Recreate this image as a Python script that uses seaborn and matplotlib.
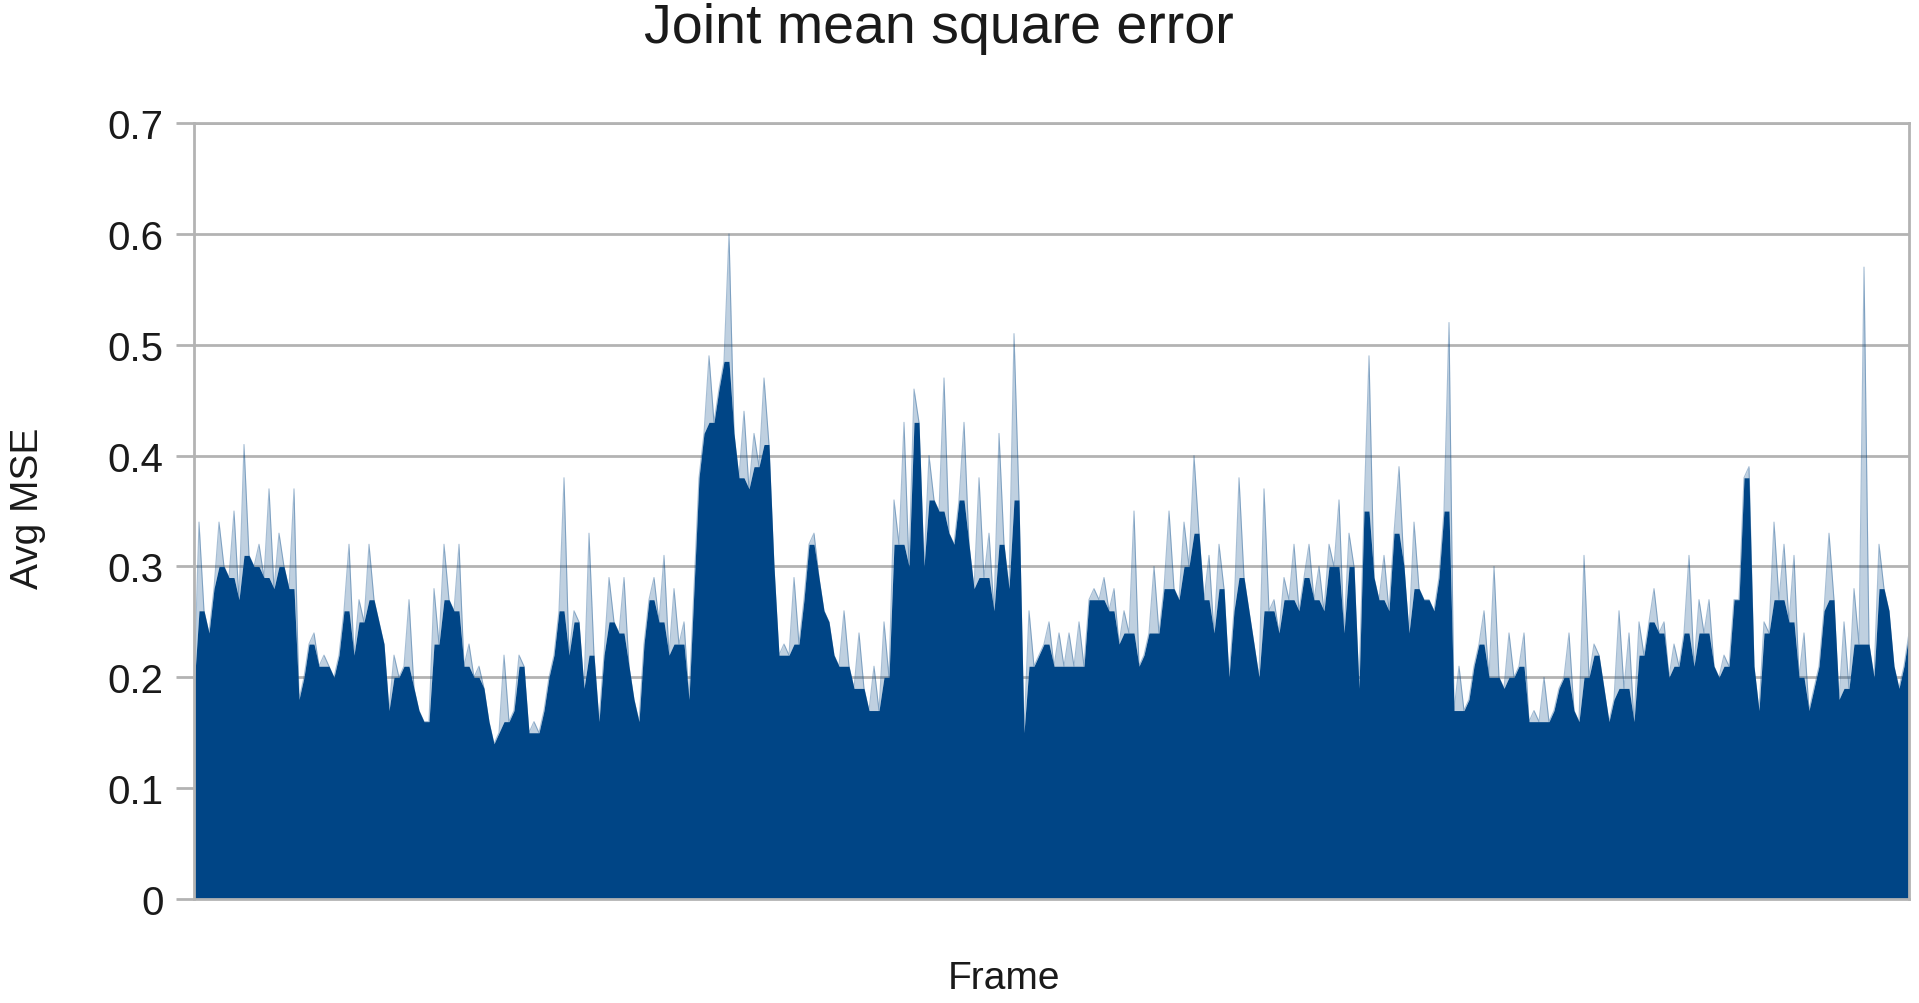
import numpy as np
import pandas as pd
import matplotlib
matplotlib.use("Agg")
import matplotlib.pyplot as plt
import seaborn as sns

mse_part1 = [0.19, 0.34, 0.26, 0.24, 0.28, 0.34, 0.30, 0.29, 0.35, 0.27,
             0.41, 0.31, 0.30, 0.32, 0.29, 0.37, 0.28, 0.33, 0.30, 0.28,
             0.37, 0.18, 0.20, 0.23, 0.24, 0.21, 0.22, 0.21, 0.20, 0.22,
             0.26, 0.32, 0.22, 0.27, 0.25, 0.32, 0.27, 0.25, 0.23, 0.17,
             0.22, 0.20, 0.21, 0.27, 0.19, 0.17, 0.16, 0.16, 0.28, 0.23,
             0.32, 0.27, 0.26, 0.32, 0.21, 0.23, 0.20, 0.21]
mse_part2 = [0.19, 0.16, 0.14, 0.15, 0.22, 0.16, 0.17, 0.22, 0.21, 0.15,
             0.16, 0.15, 0.17, 0.20, 0.22, 0.26, 0.38, 0.22, 0.26, 0.25,
             0.19, 0.33, 0.22, 0.16, 0.22, 0.29, 0.25, 0.24, 0.29, 0.21,
             0.18, 0.16, 0.23, 0.27, 0.29, 0.25, 0.31, 0.22, 0.28, 0.23,
             0.25, 0.18, 0.28, 0.38, 0.42, 0.49, 0.43, 0.46, 0.485, 0.60,
             0.42, 0.38, 0.44, 0.37, 0.42, 0.39, 0.47, 0.41]
mse_part3 = [0.30, 0.22, 0.23, 0.22, 0.29, 0.23, 0.27, 0.32, 0.33, 0.29,
             0.26, 0.25, 0.22, 0.21, 0.26, 0.21, 0.19, 0.24, 0.19, 0.17,
             0.21, 0.17, 0.25, 0.20, 0.36, 0.32, 0.43, 0.30, 0.46, 0.43,
             0.30, 0.40, 0.36, 0.35, 0.47, 0.33, 0.32, 0.36, 0.43, 0.32,
             0.28, 0.38, 0.29, 0.33, 0.26, 0.42, 0.32, 0.28, 0.51, 0.36,
             0.15, 0.26, 0.21, 0.22, 0.23, 0.25, 0.21, 0.24]
mse_part4 = [0.21, 0.24, 0.21, 0.25, 0.21, 0.27, 0.28, 0.27, 0.29, 0.26,
             0.28, 0.23, 0.26, 0.24, 0.35, 0.21, 0.22, 0.24, 0.30, 0.24,
             0.28, 0.35, 0.28, 0.27, 0.34, 0.30, 0.40, 0.33, 0.27, 0.31,
             0.24, 0.32, 0.28, 0.20, 0.26, 0.38, 0.29, 0.26, 0.23, 0.20,
             0.37, 0.26, 0.27, 0.24, 0.29, 0.27, 0.32, 0.26, 0.29, 0.32,
             0.27, 0.30, 0.26, 0.32, 0.30, 0.36, 0.24, 0.33]
mse_part5 = [0.30, 0.19, 0.35, 0.49, 0.29, 0.27, 0.31, 0.26, 0.33, 0.39,
             0.30, 0.24, 0.34, 0.28, 0.27, 0.27, 0.26, 0.29, 0.35, 0.52,
             0.17, 0.21, 0.17, 0.18, 0.21, 0.23, 0.26, 0.20, 0.30, 0.20,
             0.19, 0.24, 0.20, 0.21, 0.24, 0.16, 0.17, 0.16, 0.20, 0.16,
             0.17, 0.19, 0.20, 0.24, 0.17, 0.16, 0.31, 0.20, 0.23, 0.22,
             0.19, 0.16, 0.18, 0.26, 0.19, 0.24, 0.16, 0.25]
mse_part6 = [0.22, 0.25, 0.28, 0.24, 0.25, 0.20, 0.23, 0.21, 0.24, 0.31,
             0.21, 0.27, 0.24, 0.27, 0.21, 0.20, 0.22, 0.21, 0.27, 0.27,
             0.38, 0.39, 0.21, 0.17, 0.25, 0.24, 0.34, 0.27, 0.32, 0.25,
             0.31, 0.20, 0.24, 0.17, 0.19, 0.21, 0.26, 0.33, 0.27, 0.18,
             0.25, 0.19, 0.28, 0.23, 0.57, 0.23, 0.20, 0.32, 0.28, 0.26,
             0.21, 0.19, 0.21, 0.24]

y_ticks = [0, 0.1, 0.2, 0.3, 0.4, 0.5, 0.6, 0.7]
y_tick_labels = ["0", "0.1", "0.2", "0.3", "0.4", "0.5", "0.6", "0.7"]

mse = mse_part1 + mse_part2 + mse_part3 + mse_part4 + mse_part5 + mse_part6
df = pd.DataFrame({"frame": np.arange(len(mse)), "mse": mse})

# corpo "sólido": picos isolados cortados na altura do vizinho mais alto
viz = np.maximum(df["mse"].shift(1).bfill(), df["mse"].shift(-1).ffill())
df["corpo"] = np.minimum(df["mse"], viz)

COR = "#004586"
CINZA = "#b3b3b3"

sns.set_theme(style="white")
plt.rcParams["font.family"] = ["Liberation Sans", "DejaVu Sans"]

fig = plt.figure(figsize=(19.19, 10.04), dpi=100)
ax = fig.add_axes([194 / 1919, 1 - 900 / 1004, 1715 / 1919, 776 / 1004])

# picos finos e claros (como no original, serrilhado)
sns.lineplot(data=df, x="frame", y="mse", color=COR, alpha=0.35,
             linewidth=0.8, ax=ax)
ax.fill_between(df["frame"], df["corpo"], df["mse"], color=COR, alpha=0.25,
                linewidth=0)
ax.fill_between(df["frame"], 0, df["corpo"], color=COR, linewidth=0)

ax.set_xlim(0, len(mse) - 1)
ax.set_ylim(0, 0.7)
ax.set_xticks([])
ax.set_yticks(y_ticks)
ax.set_yticklabels(y_tick_labels)
ax.tick_params(axis="y", labelsize=29, colors=CINZA, labelcolor="#1a1a1a",
               length=13, width=2, pad=9, left=True)
ax.yaxis.grid(True, color=CINZA, linewidth=2)
ax.set_axisbelow(True)
for s in ax.spines.values():
    s.set_color(CINZA)
    s.set_linewidth(2)
ax.set_xlabel("")
ax.set_ylabel("")

fig.text(939 / 1919, 1 - 29 / 1004, "Joint mean square error", fontsize=40,
         ha="center", va="center", color="#1a1a1a")
fig.text(1004 / 1919, 1 - 979 / 1004, "Frame", fontsize=28,
         ha="center", va="center", color="#1a1a1a")
fig.text(28 / 1919, 1 - 508 / 1004, "Avg MSE", fontsize=28, rotation=90,
         ha="center", va="center", color="#1a1a1a")

fig.savefig("out.png", dpi=100)
plt.close(fig)
